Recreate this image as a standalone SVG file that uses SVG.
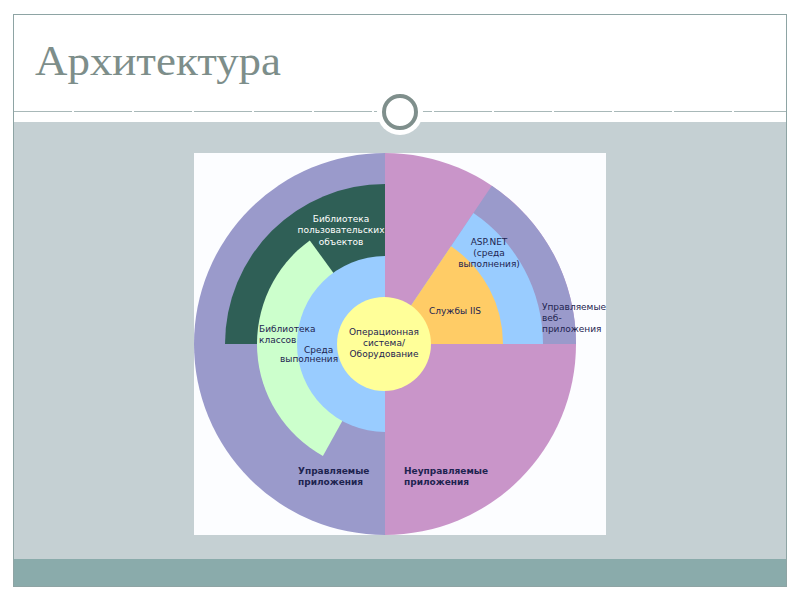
<svg xmlns="http://www.w3.org/2000/svg" width="800" height="600" viewBox="0 0 800 600">
<style>
  .lbl { font-family: "DejaVu Sans", Verdana, sans-serif; font-size: 9px; fill: #1e2450; }
  .bold { font-weight: bold; }
  .white { fill: #ffffff; }
  .mid { text-anchor: middle; }
  .lav { fill: #9a9acb; }
  .pink { fill: #c995c9; }
  .sky { fill: #99ccff; }
</style>
<rect x="0" y="0" width="800" height="600" fill="#ffffff"/>
<g id="slide-frame">
  <rect x="13.5" y="14.5" width="773" height="572" fill="#ffffff" stroke="#8ea4a4" stroke-width="1"/>
  <rect x="14" y="122" width="772" height="437" fill="#c5d0d3"/>
  <rect x="14" y="559" width="772" height="27" fill="#8aabab"/>
  <line x1="14" y1="111.5" x2="786" y2="111.5" stroke="#a8b8b8" stroke-width="1" stroke-dasharray="58 2"/>
  <circle cx="400" cy="112" r="23" fill="#ffffff"/>
  <circle cx="400" cy="112" r="16" fill="#ffffff" stroke="#7f8f8c" stroke-width="4"/>
</g>
<g id="title">
  <text x="35" y="75" font-family="Liberation Serif, DejaVu Serif, serif" font-size="42" fill="#7d8e8a" textLength="246" lengthAdjust="spacingAndGlyphs">Архитектура</text>
</g>
<rect id="chart-bg" x="194" y="153" width="412" height="382" fill="#fcfdff"/>
<g id="managed-apps">
  <path class="lav" d="M385,153 A191,191 0 0 0 385,535 Z"/>
</g>
<g id="unmanaged-apps">
  <path class="pink" d="M385,153 A191,191 0 0 1 385,535 Z"/>
</g>
<g id="managed-web-apps">
  <path class="lav" d="M385,344 L576,344 A191,191 0 0 0 491.8,185.7 Z"/>
</g>
<g id="aspnet">
  <path class="sky" d="M385,344 L543,344 A158,158 0 0 0 473.4,213 Z"/>
</g>
<g id="iis">
  <path d="M385,344 L503,344 A118,118 0 0 0 451,246.2 Z" fill="#ffcc66"/>
</g>
<g id="custom-object-library">
  <path d="M385,344 L385,184 A160,160 0 0 0 225,344 Z" fill="#2f5f56"/>
</g>
<g id="class-library">
  <path d="M385,344 L309.8,240.4 A128,128 0 0 0 322.9,455.9 Z" fill="#ccffcc"/>
</g>
<g id="runtime">
  <path class="sky" d="M385,256 A88,88 0 0 0 385,432 Z"/>
</g>
<g id="os-hardware">
  <circle cx="384" cy="344" r="47" fill="#ffff99"/>
</g>
<g id="labels">
  <g id="label-managed-apps">
    <text class="lbl bold" x="298" y="474">Управляемые</text>
    <text class="lbl bold" x="298" y="485">приложения</text>
  </g>
  <g id="label-unmanaged-apps">
    <text class="lbl bold" x="404" y="474" fill="#2a1a45">Неуправляемые</text>
    <text class="lbl bold" x="404" y="485" fill="#2a1a45">приложения</text>
  </g>
  <g id="label-managed-web-apps">
    <text class="lbl" x="542" y="310">Управляемые</text>
    <text class="lbl" x="542" y="321">веб-</text>
    <text class="lbl" x="542" y="332">приложения</text>
  </g>
  <g id="label-aspnet">
    <text class="lbl mid" x="489" y="245">ASP.NET</text>
    <text class="lbl mid" x="489" y="256">(среда</text>
    <text class="lbl mid" x="489" y="267">выполнения)</text>
  </g>
  <g id="label-iis">
    <text class="lbl" x="429" y="314" fill="#3a2a30">Службы IIS</text>
  </g>
  <g id="label-custom-object-library">
    <text class="lbl white mid" x="341" y="222">Библиотека</text>
    <text class="lbl white mid" x="341" y="233">пользовательских</text>
    <text class="lbl white mid" x="341" y="245">объектов</text>
  </g>
  <g id="label-class-library">
    <text class="lbl" x="259" y="332" fill="#1f4a3a">Библиотека</text>
    <text class="lbl" x="259" y="343" fill="#1f4a3a">классов</text>
  </g>
  <g id="label-runtime">
    <text class="lbl" x="304" y="353" fill="#1d3d8a">Среда</text>
    <text class="lbl" x="280" y="362" fill="#1d3d8a">выполнения</text>
  </g>
  <g id="label-os-hardware">
    <text class="lbl mid" x="384" y="335">Операционная</text>
    <text class="lbl mid" x="384" y="346">система/</text>
    <text class="lbl mid" x="384" y="357">Оборудование</text>
  </g>
</g>
</svg>
